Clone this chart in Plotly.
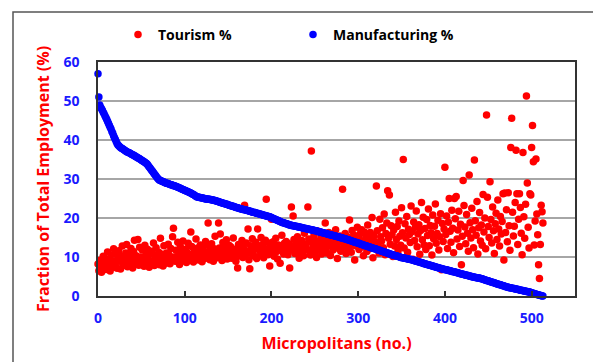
import plotly.graph_objects as go

# Manufacturing share (%) for each micropolitan, sorted descending
manufacturing = [
    57.0, 51.0, 49.0,
    48.4, 48.0, 47.6, 47.1, 46.7, 46.2, 45.8, 45.3, 44.8, 44.3, 43.8, 43.3,
    42.8, 42.2, 41.7, 41.1, 40.6, 40.1, 39.6, 39.1, 38.7,
    38.5, 38.3, 38.1, 37.9, 37.8, 37.6, 37.5, 37.3, 37.2, 37.0, 36.9, 36.8, 36.7, 36.6, 36.5, 36.3, 36.2,
    36.1, 36.0, 35.8, 35.7, 35.6, 35.4, 35.3, 35.2, 35.0, 34.9, 34.7, 34.6, 34.4, 34.3, 34.1, 34.0,
    33.7, 33.4, 33.1, 32.8, 32.5, 32.2, 31.9, 31.6, 31.3, 31.0, 30.7, 30.4, 30.1, 29.9, 29.7,
    29.6, 29.5, 29.4, 29.3, 29.2, 29.1, 29.0, 28.9, 28.9, 28.8, 28.7, 28.6, 28.5, 28.5, 28.4, 28.3, 28.3, 28.2, 28.1, 28.0,
    27.9, 27.8, 27.7, 27.6, 27.5, 27.4, 27.3, 27.2, 27.1, 27.0, 26.9, 26.8, 26.7, 26.6, 26.5, 26.4, 26.3, 26.1, 26.0, 25.9, 25.7, 25.6, 25.4,
    25.4, 25.3, 25.3, 25.2, 25.2, 25.1, 25.1, 25.0, 25.0, 24.9, 24.9, 24.9, 24.8, 24.8, 24.8, 24.7, 24.7, 24.6, 24.6,
    24.5, 24.5, 24.4, 24.3, 24.2, 24.2, 24.1, 24.0, 24.0, 23.9, 23.8, 23.7, 23.7, 23.6, 23.5, 23.5, 23.4, 23.3, 23.2,
    23.2, 23.1, 23.0, 23.0, 22.9, 22.8, 22.7, 22.7, 22.6, 22.5, 22.5, 22.4, 22.3, 22.3, 22.2, 22.2, 22.1, 22.1, 22.0,
    21.9, 21.9, 21.8, 21.7, 21.7, 21.6, 21.5, 21.5, 21.4, 21.4, 21.3, 21.2, 21.2, 21.1, 21.0, 21.0, 20.9, 20.9, 20.8,
    20.7, 20.7, 20.6, 20.5, 20.5, 20.4, 20.4, 20.3,
    20.2, 20.1, 20.0, 19.9, 19.8, 19.7, 19.6, 19.5, 19.4, 19.3, 19.2, 19.1, 19.0, 18.9, 18.8, 18.8, 18.7, 18.6, 18.5, 18.5, 18.4, 18.3, 18.2,
    18.2, 18.1, 18.1, 18.0, 18.0, 17.9, 17.9, 17.8, 17.8, 17.7, 17.7, 17.6, 17.6, 17.5, 17.5, 17.4, 17.4, 17.3, 17.3, 17.2,
    17.2, 17.1, 17.1, 17.0, 17.0, 16.9, 16.9, 16.8, 16.8, 16.7, 16.7, 16.6, 16.5, 16.5, 16.4,
    16.4, 16.3, 16.2, 16.2, 16.1, 16.1, 16.0, 15.9, 15.9, 15.8, 15.8, 15.7, 15.6, 15.6, 15.5, 15.5, 15.4, 15.3, 15.3, 15.2,
    15.2, 15.1, 15.0, 15.0, 14.9, 14.9,
    14.8, 14.7, 14.7, 14.6, 14.5, 14.4, 14.4, 14.3, 14.2, 14.1, 14.1, 14.0, 13.9, 13.8, 13.8, 13.7, 13.6, 13.5, 13.5, 13.4,
    13.3, 13.2, 13.2, 13.1, 13.0, 12.9, 12.9, 12.8, 12.7, 12.6, 12.6, 12.5, 12.4, 12.3, 12.3,
    12.2, 12.1, 12.1, 12.0, 11.9, 11.8, 11.7, 11.7, 11.6, 11.5, 11.4, 11.4, 11.3, 11.2, 11.1, 11.1, 11.0, 10.9, 10.8, 10.8,
    10.7, 10.6, 10.5, 10.5, 10.4, 10.3, 10.3,
    10.2, 10.1, 10.1, 10.0, 9.9, 9.9, 9.8, 9.8, 9.7, 9.7, 9.6, 9.6, 9.5, 9.5, 9.4, 9.4, 9.3, 9.3, 9.2,
    9.1, 9.1, 9.0, 8.9, 8.9, 8.8, 8.7, 8.7, 8.6, 8.5, 8.5, 8.4, 8.3, 8.3, 8.2, 8.1, 8.1, 8.0, 7.9, 7.9,
    7.8, 7.7, 7.7, 7.6, 7.5, 7.5, 7.4, 7.3, 7.3, 7.2, 7.1, 7.1, 7.0, 6.9, 6.9, 6.8, 6.8, 6.7, 6.7,
    6.6, 6.6, 6.5, 6.5, 6.4, 6.3, 6.3, 6.2, 6.2, 6.1, 6.0, 6.0, 5.9, 5.9, 5.8, 5.7, 5.7, 5.6, 5.6, 5.5,
    5.4, 5.4, 5.3, 5.3, 5.2, 5.1, 5.1, 5.0, 5.0, 4.9, 4.9, 4.8, 4.8, 4.7, 4.7, 4.6, 4.6, 4.6,
    4.5, 4.4, 4.4, 4.3, 4.2, 4.1, 4.1, 4.0, 3.9, 3.9, 3.8, 3.7, 3.6, 3.6, 3.5, 3.4, 3.4, 3.3, 3.2, 3.1,
    3.1, 3.0, 2.9, 2.9, 2.8, 2.7, 2.6, 2.6, 2.5, 2.4, 2.4, 2.3, 2.2, 2.2, 2.1, 2.1, 2.0, 2.0,
    1.9, 1.9, 1.8, 1.8, 1.7, 1.7, 1.6, 1.6, 1.5, 1.5, 1.4, 1.4, 1.3, 1.3, 1.2, 1.2, 1.1, 1.1, 1.0, 1.0,
    0.9, 0.8, 0.8, 0.7, 0.6, 0.5, 0.5, 0.4, 0.3, 0.3, 0.2, 0.1, 0.1, 0.0, 0.0,
]

# Tourism share (%) for the same micropolitans (same order)
tourism = [
    8.2, 6.5, 9.1, 7.4, 6.1, 8.8, 10.2, 7.0, 9.6, 6.8, 8.0, 11.3, 7.7, 9.2, 6.4, 10.5, 8.6, 7.3, 12.1, 9.0,
    8.4, 10.8, 7.1, 9.7, 11.6, 8.9, 6.9, 10.1, 12.8, 7.8, 9.4, 8.1, 11.0, 13.2, 7.5, 10.6, 9.0, 8.3, 12.2, 9.8,
    7.2, 11.4, 14.3, 8.7, 10.3, 9.1, 14.5, 7.9, 12.5, 10.0, 8.5, 11.8, 9.3, 7.6, 13.0, 10.4, 8.8, 12.0, 9.5, 7.4,
    10.9, 8.2, 11.5, 9.0, 13.6, 7.8, 10.2, 12.4, 8.6, 9.7, 11.2, 8.0, 14.8, 9.4, 10.7, 7.7, 12.9, 9.9, 8.4, 11.0,
    9.1, 13.3, 10.5, 8.3, 12.2, 9.6, 15.2, 17.4, 10.0, 8.9, 11.7, 9.2, 13.8, 10.4, 8.1, 12.6, 9.8, 11.3, 14.1, 10.2,
    9.0, 12.0, 8.6, 11.1, 13.5, 10.3, 9.4, 16.4, 12.7, 10.8, 8.7, 11.9, 9.9, 14.6, 10.5, 12.3, 9.2, 11.4, 13.1, 10.0,
    8.8, 12.5, 10.9, 9.6, 14.0, 11.2, 10.1, 18.7, 12.8, 9.3, 11.6, 13.4, 10.4, 8.9, 12.1, 15.3, 10.7, 11.5, 9.8, 18.7,
    12.3, 15.9, 10.6, 9.1, 13.7, 11.0, 12.4, 10.2, 14.4, 9.5, 11.8, 13.0, 10.8, 12.6, 9.7, 11.3, 14.9, 10.5, 12.0, 8.9,
    11.7, 7.2, 13.2, 10.3, 12.7, 11.1, 14.2, 9.9, 12.2, 23.3, 10.7, 13.6, 11.4, 17.2, 9.3, 7.0, 12.9, 10.9, 14.7, 11.6,
    12.5, 10.1, 13.8, 9.6, 17.2, 11.9, 12.8, 10.4, 15.0, 11.2, 13.3, 9.8, 12.1, 14.3, 24.8, 11.5, 10.6, 13.6, 7.7, 12.4,
    19.7, 11.0, 13.9, 10.2, 12.6, 14.8, 11.4, 9.5, 13.1, 12.0, 8.4, 11.7, 15.6, 12.9, 10.8, 13.5, 11.3, 14.0, 12.3, 10.6,
    13.4, 7.2, 11.8, 22.8, 12.7, 20.5, 14.5, 10.9, 13.0, 11.6, 15.2, 12.2, 9.7, 13.7, 11.1, 14.2, 12.5, 10.3, 16.1, 11.9,
    13.3, 12.0, 22.8, 14.6, 11.4, 10.5, 37.2, 13.8, 12.6, 15.5, 11.2, 14.1, 9.9, 12.8, 16.6, 13.2, 11.7, 14.9, 10.8, 12.4,
    15.1, 13.6, 18.7, 12.2, 11.0, 14.4, 16.3, 12.9, 10.4, 13.9, 15.8, 11.8, 14.2, 12.5, 17.0, 13.1, 9.6, 14.7, 12.1, 15.4,
    11.5, 13.8, 27.4, 14.3, 12.7, 16.0, 10.9, 13.4, 15.1, 12.3, 19.5, 14.0, 11.2, 16.8, 13.0, 15.6, 9.2, 14.5, 12.8, 17.6,
    13.5, 11.9, 15.9, 14.2, 17.0, 12.6, 10.3, 16.4, 13.8, 15.0, 11.4, 18.2, 14.7, 12.1, 16.3, 13.2, 20.1, 9.8, 15.4, 14.0,
    12.9, 28.2, 16.7, 13.6, 11.0, 19.7, 15.2, 14.1, 17.5, 12.4, 21.0, 10.6, 16.0, 18.7, 27.0, 14.8, 25.9, 13.3, 18.0, 15.7,
    10.1, 16.9, 12.8, 21.5, 14.5, 17.8, 11.6, 19.2, 15.3, 13.0, 22.6, 16.2, 35.0, 12.3, 18.5, 14.9, 20.4, 11.2, 17.1, 15.8,
    13.7, 23.1, 16.5, 9.4, 19.0, 14.2, 17.6, 21.8, 12.6, 15.9, 18.3, 10.7, 16.8, 24.0, 14.4, 20.2, 13.1, 17.3, 11.9, 19.6,
    15.5, 22.3, 12.9, 18.1, 16.2, 10.5, 20.8, 14.7, 17.9, 23.6, 13.5, 16.0, 19.4, 11.8, 15.2, 21.1, 6.7, 18.6, 14.0, 17.2,
    33.0, 15.8, 20.5, 12.2, 18.9, 25.0, 16.6, 13.8, 22.0, 17.4, 11.1, 25.0, 19.8, 25.5, 14.6, 16.9, 21.7, 12.7, 18.4, 8.0,
    15.3, 29.6, 23.2, 17.7, 13.4, 20.9, 16.1, 11.5, 31.0, 18.8, 14.9, 22.5, 17.0, 12.4, 34.9, 19.3, 15.6, 24.2, 10.8, 17.5,
    21.4, 14.1, 18.2, 13.0, 26.0, 16.4, 20.0, 12.1, 46.4, 25.3, 17.8, 15.0, 29.3, 19.6, 13.6, 22.8, 16.7, 10.9, 18.5, 21.2,
    14.5, 24.6, 17.2, 12.8, 20.4, 15.9, 19.1, 26.2, 9.2, 26.4, 16.3, 22.1, 13.9, 26.5, 18.0, 11.7, 38.1, 45.6, 21.5, 15.4,
    17.9, 24.0, 37.4, 26.2, 13.2, 19.7, 26.2, 22.7, 16.1, 10.6, 36.8, 20.3, 14.8, 23.5, 51.3, 29.0, 17.6, 12.3, 26.2, 25.9,
    38.1, 43.7, 34.4, 13.1, 19.2, 35.1, 21.0, 15.7, 8.0, 4.5, 13.2, 23.3, 21.6, 18.7,
]

x_ticks = [0, 100, 200, 300, 400, 500]
y_ticks = [0, 10, 20, 30, 40, 50, 60]

FONT = "Open Sans"
W, H = 593, 362
L, R, T, B = 98, 18, 62, 66
PW, PH = W - L - R, H - T - B


def px2paper_x(px):
    return (px - L) / PW


def px2paper_y(py):
    return (H - B - py) / PH


fig = go.Figure()
fig.add_trace(go.Scatter(
    x=list(range(len(tourism))), y=tourism, mode="markers", name="Tourism %",
    marker=dict(color="#ff0000", size=7.5, line=dict(width=0)), cliponaxis=False,
))
fig.add_trace(go.Scatter(
    x=list(range(len(manufacturing))), y=manufacturing, mode="markers", name="Manufacturing %",
    marker=dict(color="#0000ff", size=7.5, line=dict(width=0)), cliponaxis=False,
))

fig.update_layout(
    width=W, height=H,
    margin=dict(l=L, r=R, t=T, b=B, autoexpand=False),
    paper_bgcolor="white", plot_bgcolor="white",
    showlegend=True,
    legend=dict(
        orientation="h", x=px2paper_x(118), y=px2paper_y(35), xanchor="left", yanchor="middle",
        entrywidth=130, entrywidthmode="pixels",
        font=dict(family=FONT, size=14, color="black", weight="bold"),
        bgcolor="rgba(0,0,0,0)",
    ),
    xaxis=dict(
        range=[0, 550], tickvals=x_ticks, ticks="inside", ticklen=5, tickwidth=1.5, tickcolor="#333333",
        showline=True, mirror=True, linecolor="#333333", linewidth=1.5,
        showgrid=False, zeroline=False,
        tickfont=dict(family=FONT, size=14, color="#1a1aff", weight="bold"),
        ticklabelstandoff=8,
        title=dict(text="Micropolitans (no.)", standoff=12,
                   font=dict(family=FONT, size=16, color="#ff0000", weight="bold")),
    ),
    yaxis=dict(
        range=[0, 60], tickvals=y_ticks, ticks="",
        showline=True, mirror=True, linecolor="#333333", linewidth=1.5,
        showgrid=True, gridcolor="#a6a6a6", gridwidth=1.5, zeroline=False,
        tickfont=dict(family=FONT, size=14, color="#1a1aff", weight="bold"),
        ticklabelstandoff=14,
        title=dict(text="Fraction of Total Employment (%)", standoff=10,
                   font=dict(family=FONT, size=16, color="#ff0000", weight="bold")),
    ),
    shapes=[dict(
        type="rect", xref="paper", yref="paper",
        x0=px2paper_x(13), x1=px2paper_x(640), y0=px2paper_y(420), y1=px2paper_y(12),
        line=dict(color="#555555", width=1.5), fillcolor="rgba(0,0,0,0)", layer="below",
    )],
)

fig.write_html(
    "out.html",
    config={"displayModeBar": False},
    post_script="document.body.style.margin='0';document.body.style.overflow='hidden';",
)
